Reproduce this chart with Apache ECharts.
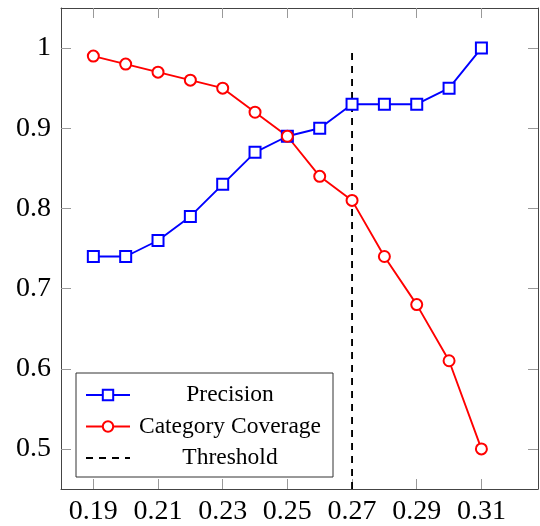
<!DOCTYPE html>
<html><head><meta charset="utf-8">
<script src="https://cdn.jsdelivr.net/npm/echarts@6/dist/echarts.min.js"></script>
<style>html,body{margin:0;padding:0;background:#fff}#c{width:540px;height:526px}</style>
</head><body><div id="c"></div>
<script>
var thresholds = [0.19,0.20,0.21,0.22,0.23,0.24,0.25,0.26,0.27,0.28,0.29,0.30,0.31];
var precision = [0.74,0.74,0.76,0.79,0.83,0.87,0.89,0.90,0.93,0.93,0.93,0.95,1.00];
var coverage = [0.99,0.98,0.97,0.96,0.95,0.92,0.89,0.84,0.81,0.74,0.68,0.61,0.50];
var thresholdX = 0.27;
var thresholdY = [0.45, 1.0];
var xTicks = [0.19,0.21,0.23,0.25,0.27,0.29,0.31];
var yTicks = [0.5,0.6,0.7,0.8,0.9,1.0];

var font = '"Liberation Serif", "DejaVu Serif", serif';
function pairs(xs, ys){ return xs.map(function(x,i){ return [x, ys[i]]; }); }
function xAxis(pos, labels){
  return {type:'value', position:pos, min:0.18, max:0.3275,
    axisLine:{show:true, onZero:false, lineStyle:{color:'#444', width:1}},
    axisTick:{show:true, inside:true, length:10, customValues:xTicks, lineStyle:{color:'#999', width:1}},
    axisLabel:{show:labels, customValues:xTicks, margin:9, fontFamily:font, fontSize:28, color:'#000',
      formatter:function(v){return v.toFixed(2);}},
    splitLine:{show:false}};
}
function yAxis(pos, labels){
  return {type:'value', position:pos, min:0.45, max:1.05,
    axisLine:{show:true, onZero:false, lineStyle:{color:'#444', width:1}},
    axisTick:{show:true, inside:true, length:10, customValues:yTicks, lineStyle:{color:'#999', width:1}},
    axisLabel:{show:labels, customValues:yTicks, margin:10, fontFamily:font, fontSize:28, color:'#000',
      formatter:function(v){return v===1?'1':String(Math.round(v*10)/10);}},
    splitLine:{show:false}};
}
var chart = echarts.init(document.getElementById('c'));
chart.setOption({
  animation:false,
  grid:{left:61, right:2, top:8, bottom:34, containLabel:false},
  xAxis:[xAxis('bottom', true), xAxis('top', false)],
  yAxis:[yAxis('left', true), yAxis('right', false)],
  legend:{orient:'vertical', left:76, top:373, width:258,
    borderColor:'#333', borderWidth:1, padding:[8,8,5,9], itemGap:3.5,
    itemWidth:44, itemHeight:13, selectedMode:false,
    formatter:function(n){return '{a|'+n+'}';},
    textStyle:{fontFamily:font, fontSize:23.5, color:'#000',
      rich:{a:{width:190, lineHeight:24, padding:[2,0,2,0], align:'center', fontFamily:font, fontSize:23.5, color:'#000'}}},
    data:['Precision','Category Coverage',
      {name:'Threshold', itemStyle:{color:'rgba(0,0,0,0)', borderColor:'rgba(0,0,0,0)', borderWidth:0}}]},
  series:[
    {name:'Precision', type:'line', data:pairs(thresholds, precision),
     symbol:'emptyRect', symbolSize:11, color:'#0000ff',
     lineStyle:{width:1.9, color:'#0000ff'}, itemStyle:{color:'#0000ff', borderWidth:1.9}},
    {name:'Category Coverage', type:'line', data:pairs(thresholds, coverage),
     symbol:'emptyCircle', symbolSize:11, color:'#ff0000',
     lineStyle:{width:1.9, color:'#ff0000'}, itemStyle:{color:'#ff0000', borderWidth:1.9}},
    {name:'Threshold', type:'line', data:[[thresholdX, thresholdY[0]],[thresholdX, thresholdY[1]]],
     symbol:'none', color:'#000',
     lineStyle:{width:1.9, color:'#000', type:[7,6]}}
  ]
});
</script></body></html>
